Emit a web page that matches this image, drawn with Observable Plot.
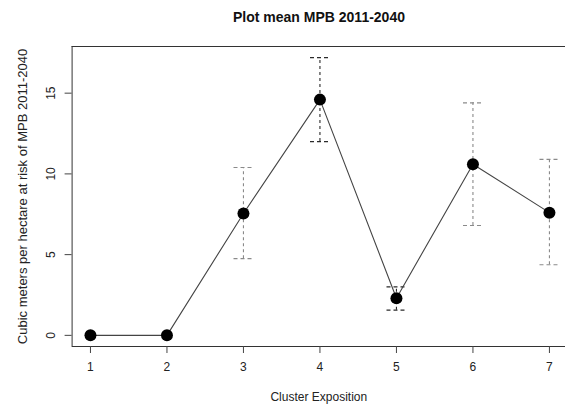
<!DOCTYPE html>
<html>
<head>
<meta charset="utf-8">
<script src="https://cdn.jsdelivr.net/npm/d3@7"></script>
<script src="https://cdn.jsdelivr.net/npm/@observablehq/plot@0.6"></script>
<style>
  html, body { margin: 0; padding: 0; background: #fff; }
  #wrap { width: 565px; height: 410px; position: relative; font-family: "Liberation Sans", Arial, sans-serif; }
  #title { position: absolute; left: 71px; width: 496px; top: 9px; text-align: center; font-weight: bold; font-size: 14px; color: #111; }
  #chart { position: absolute; left: 0; top: 0; }
</style>
</head>
<body>
<div id="wrap">
  <div id="chart"></div>
  <div id="title">Plot mean MPB 2011-2040</div>
</div>
<script>
const clusters = [1, 2, 3, 4, 5, 6, 7];
const means    = [0, 0, 7.55, 14.6, 2.3, 10.6, 7.6];
const lowers   = [0, 0, 4.75, 12.0, 1.56, 6.8, 4.37];
const uppers   = [0, 0, 10.4, 17.2, 3.0, 14.4, 10.9];
const xTicks = [1, 2, 3, 4, 5, 6, 7];
const yTicks = [0, 5, 10, 15];

const data = clusters.map((c, i) => ({cluster: c, mean: means[i], lo: lowers[i], hi: uppers[i]}));
const bars = data.filter(d => d.hi > d.lo);

const capHalf = 0.13;
const barColor = d => (d.cluster === 4 || d.cluster === 5) ? "#2a2a2a" : "#8a8a8a";
const xDom = [0.76, 7.21];
const yDom = [-0.69, 17.89];
const fmt = d => String(d);

const plot = Plot.plot({
  width: 565,
  height: 410,
  marginLeft: 71.6,
  marginRight: 0,
  marginTop: 46,
  marginBottom: 64,
  style: {fontFamily: "Liberation Sans, Arial, sans-serif", fontSize: "12px", color: "#222", background: "#fff"},
  x: {domain: xDom},
  y: {domain: yDom},
  marks: [
    // box (left, top, bottom)
    Plot.ruleX([xDom[0]], {y1: yDom[0], y2: yDom[1], stroke: "#333", strokeWidth: 1}),
    Plot.ruleY([yDom[0], yDom[1]], {x1: xDom[0], x2: xDom[1], stroke: "#333", strokeWidth: 1}),
    Plot.axisX({ticks: xTicks, tickFormat: fmt, tickSize: 7, tickPadding: 9, stroke: "#444", fill: "#222", fontSize: 12, label: null}),
    Plot.axisX({ticks: [], label: "Cluster Exposition", labelAnchor: "center", labelArrow: "none", labelOffset: 54, fontSize: 12, fill: "#222"}),
    Plot.axisY({ticks: yTicks, tickFormat: fmt, tickSize: 7, tickPadding: 10, tickRotate: -90, stroke: "#444", fill: "#222", fontSize: 12, label: null}),
    Plot.axisY({ticks: [], label: "Cubic meters per hectare at risk of MPB 2011-2040", labelAnchor: "center", labelArrow: "none", labelOffset: 54, fontSize: 13, fill: "#222"}),
    // error bars
    Plot.ruleX(bars, {x: "cluster", y1: "lo", y2: "hi", stroke: barColor, strokeWidth: 1.1, strokeDasharray: "3,3"}),
    Plot.link(bars, {x1: d => d.cluster - capHalf, x2: d => d.cluster + capHalf, y1: "hi", y2: "hi", stroke: barColor, strokeWidth: 1.1, strokeDasharray: "4,3"}),
    Plot.link(bars, {x1: d => d.cluster - capHalf, x2: d => d.cluster + capHalf, y1: "lo", y2: "lo", stroke: barColor, strokeWidth: 1.1, strokeDasharray: "4,3"}),
    // connecting line
    Plot.line(data, {x: "cluster", y: "mean", stroke: "#444", strokeWidth: 1.1}),
    // points
    Plot.dot(data, {x: "cluster", y: "mean", r: 6, fill: "#000", stroke: "none"})
  ]
});
document.getElementById("chart").appendChild(plot);
</script>
</body>
</html>
